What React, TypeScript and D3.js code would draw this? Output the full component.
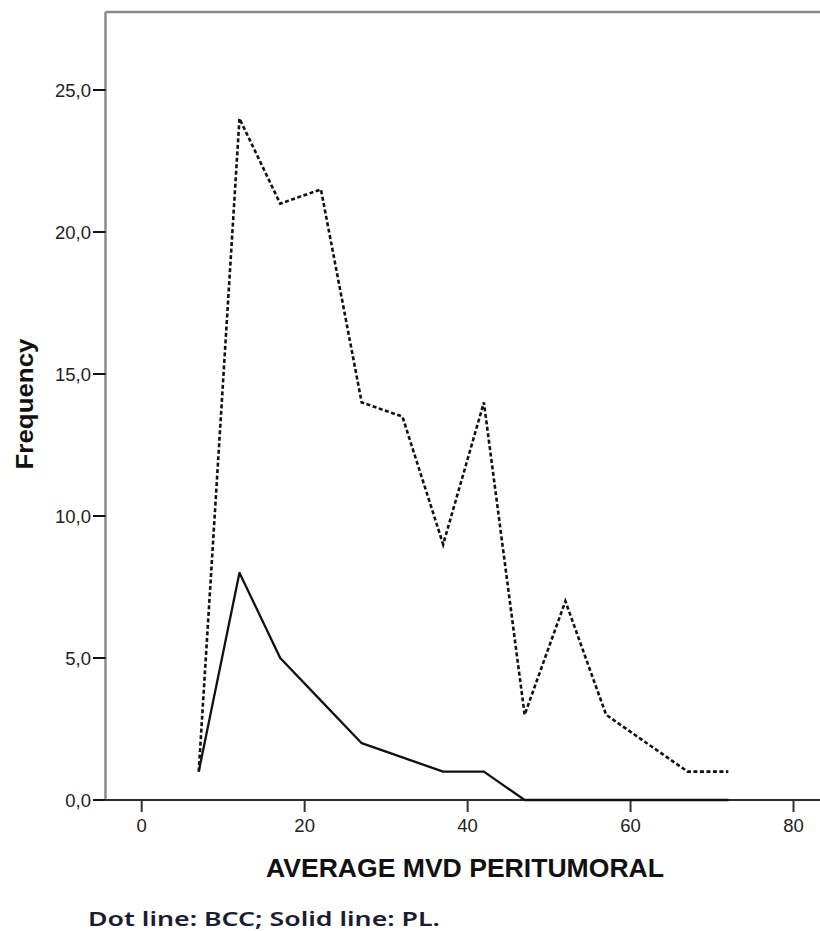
import React from "react";
import * as d3 from "d3";

const xValues = [7, 12, 17, 22, 27, 32, 37, 42, 47, 52, 57, 62, 67, 72];
const bccFreq = [1, 24, 21, 21.5, 14, 13.5, 9, 14, 3, 7, 3, 2, 1, 1];
const plFreq = [1, 8, 5, 3.5, 2, 1.5, 1, 1, 0, 0, 0, 0, 0, 0];
const xTicks = [0, 20, 40, 60, 80];
const yTicks = [0, 5, 10, 15, 20, 25];
const xTitle = "AVERAGE MVD PERITUMORAL";
const yTitle = "Frequency";
const caption = "Dot line: BCC; Solid line: PL.";

export default function App() {
  const W = 820, H = 931;
  const left = 105.5, top = 12, right = 820, bottom = 800;
  const x = d3.scaleLinear().domain([0, 80]).range([141.7, 793.5]);
  const y = d3.scaleLinear().domain([0, 25]).range([bottom, 90]);
  const line = d3.line<[number, number]>().x(d => x(d[0])).y(d => y(d[1]));
  const bcc = line(xValues.map((v, i) => [v, bccFreq[i]]));
  const pl = line(xValues.map((v, i) => [v, plFreq[i]]));
  const fmt = (v: number) => v.toFixed(1).replace(".", ",");
  return (
    <svg width={W} height={H} style={{ position: "absolute", left: 0, top: 0, background: "#fff" }}
      fontFamily="'Liberation Sans', Arial, sans-serif">
      {/* frame */}
      <line x1={left} x2={right} y1={top} y2={top} stroke="#8a8a8a" strokeWidth={2.5} />
      <line x1={left} x2={left} y1={top} y2={bottom} stroke="#8a8a8a" strokeWidth={2.5} />
      <line x1={left} x2={right} y1={bottom} y2={bottom} stroke="#2a2a2a" strokeWidth={2} />
      {/* y ticks */}
      {yTicks.map(t => (
        <g key={"y" + t}>
          <line x1={93} x2={left} y1={y(t)} y2={y(t)} stroke="#111" strokeWidth={2} />
          <text x={91} y={y(t) + 7} textAnchor="end" fontSize={18.5} fill="#222">{fmt(t)}</text>
        </g>
      ))}
      {/* x ticks */}
      {xTicks.map(t => (
        <g key={"x" + t}>
          <line x1={x(t)} x2={x(t)} y1={bottom} y2={812} stroke="#333" strokeWidth={2} />
          <text x={x(t)} y={832} textAnchor="middle" fontSize={18.5} fill="#222">{t}</text>
        </g>
      ))}
      {/* series */}
      <path d={pl ?? ""} fill="none" stroke="#111" strokeWidth={2.3} strokeLinejoin="round" />
      <path d={bcc ?? ""} fill="none" stroke="#111" strokeWidth={2.6} strokeDasharray="4 2.5" />
      {/* titles */}
      <text x={465} y={877} textAnchor="middle" fontSize={25} fontWeight="bold" fill="#111"
        textLength={398} lengthAdjust="spacingAndGlyphs">{xTitle}</text>
      <text transform="translate(33,404) rotate(-90)" textAnchor="middle" fontSize={24} fontWeight="bold" fill="#111"
        textLength={131} lengthAdjust="spacingAndGlyphs">{yTitle}</text>
      <text x={88} y={926} fontSize={19} fontWeight={600} fill="#1c1c30"
        fontFamily="'Noto Sans', 'DejaVu Sans', sans-serif" textLength={352} lengthAdjust="spacingAndGlyphs">{caption}</text>
    </svg>
  );
}
